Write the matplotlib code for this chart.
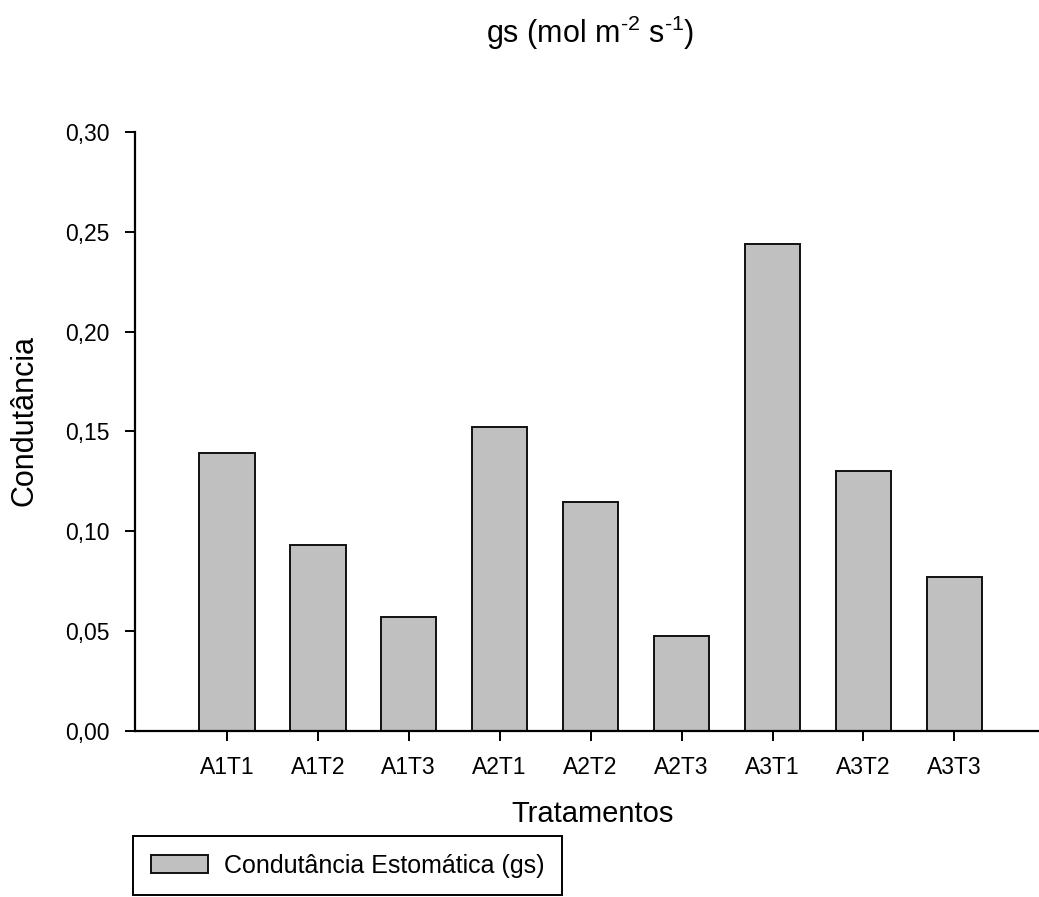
import matplotlib
matplotlib.use('Agg')
import matplotlib.pyplot as plt

# Condutancia estomatica por tratamento
tratamentos = ['A1T1', 'A1T2', 'A1T3', 'A2T1', 'A2T2', 'A2T3', 'A3T1', 'A3T2', 'A3T3']
gs = [0.139, 0.093, 0.057, 0.152, 0.1145, 0.0477, 0.244, 0.130, 0.077]
y_ticks = [0.00, 0.05, 0.10, 0.15, 0.20, 0.25, 0.30]
y_tick_labels = ['0,00', '0,05', '0,10', '0,15', '0,20', '0,25', '0,30']

plt.rcParams['font.family'] = ['Liberation Sans', 'DejaVu Sans']
plt.rcParams['mathtext.fontset'] = 'custom'
plt.rcParams['mathtext.rm'] = 'Liberation Sans'

fig = plt.figure(figsize=(10.39, 8.97), dpi=100)
ax = fig.add_axes([0.1299, 0.1851, 0.8701, 0.6678])

x = range(len(tratamentos))
ax.bar(x, gs, 0.61, color='#c0c0c0', edgecolor='#111111', linewidth=1.4,
       label='Condutância Estomática (gs)')

ax.set_xlim(-1.01, 8.93)
ax.set_ylim(0, 0.30)
ax.set_xticks(list(x))
ax.set_xticklabels(tratamentos)
ax.set_yticks(y_ticks)
ax.set_yticklabels(y_tick_labels)
ax.tick_params(axis='both', direction='out', length=7, width=1.4, labelsize=16.5, pad=11)

ax.spines['top'].set_visible(False)
ax.spines['right'].set_visible(False)
ax.spines['left'].set_linewidth(1.6)
ax.spines['bottom'].set_linewidth(1.6)

ax.set_xlabel('Tratamentos', fontsize=21)
ax.xaxis.set_label_coords(0.506, -0.115)
ax.set_ylabel('Condutância', fontsize=22)
ax.yaxis.set_label_coords(-0.106, 0.5175)

fig.text(590 / 1039, 1 - 33 / 897, r'gs (mol m$^{\text{-}2}$ s$^{\text{-}1}$)', fontsize=22,
         ha='center', va='center')

leg = fig.legend(loc='upper left', bbox_to_anchor=(133 / 1039, 1 - 836 / 897),
                 fontsize=18, frameon=True, fancybox=False, framealpha=1,
                 edgecolor='black', borderpad=0.7, handlelength=2.3,
                 handleheight=0.75, handletextpad=0.65, borderaxespad=0)
leg.get_frame().set_linewidth(1.4)

fig.savefig('out.png', dpi=100, facecolor='white')
